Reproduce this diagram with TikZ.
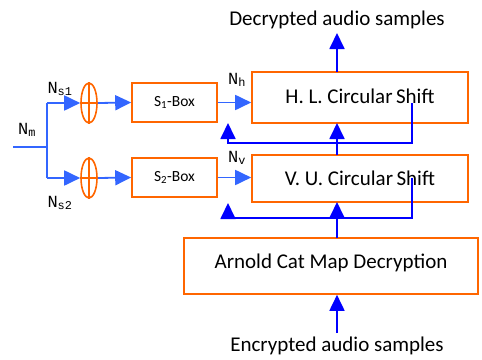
\documentclass[tikz,border=0pt]{standalone}
\usepackage{fontspec}
\setmainfont{Carlito}
\newfontfamily\labelfont{Liberation Mono}
\usetikzlibrary{arrows.meta,shapes.geometric}
\definecolor{boxorange}{RGB}{255,102,0}
\definecolor{lightblue}{RGB}{51,102,255}
\definecolor{darkblue}{RGB}{0,0,255}
\tikzset{
  blk/.style={draw=boxorange,line width=1.6pt,inner sep=0pt,font=\fontsize{21}{24}\selectfont},
  sbox/.style={blk,minimum width=85pt,minimum height=39pt,font=\fontsize{15.5}{18}\selectfont},
  xorop/.style={ellipse,draw=boxorange,line width=1.6pt,minimum width=16pt,minimum height=40pt,inner sep=0pt},
  lflow/.style={draw=lightblue,line width=1.8pt},
  lar/.style={lflow,-{Triangle[width=15pt,length=16pt]}},
  dflow/.style={draw=darkblue,line width=1.8pt},
  dar/.style={dflow,-{Triangle[width=15pt,length=16pt]}},
  sig/.style={font=\labelfont\fontsize{17}{19}\selectfont,inner sep=0pt},
  captext/.style={font=\fontsize{21}{24}\selectfont,inner sep=0pt}
}
\begin{document}
\begin{tikzpicture}[x=1pt,y=-1pt]
\useasboundingbox (0,0) rectangle (482,359);

% main processing blocks
\node[blk,minimum width=216pt,minimum height=51pt] (hl) at (360,97.5) {\raisebox{2pt}{H. L. Circular\,Shift}};
\node[blk,minimum width=216pt,minimum height=47pt] (vu) at (360,178.5) {V. U. Circular\,Shift};
\node[blk,minimum width=294pt,minimum height=56pt] (acm) at (331,266) {\raisebox{9pt}{Arnold Cat Map Decryption}};

% substitution boxes
\node[sbox] (s1) at (174.5,102.5) {S\textsubscript{1}-Box};
\node[sbox] (s2) at (174.5,177.5) {S\textsubscript{2}-Box};

% XOR operators
\node[xorop] (x1) at (89,103) {};
\node[xorop] (x2) at (89,178) {};
\foreach \e in {x1,x2}{
  \draw[boxorange,line width=1.6pt] (\e.north) -- (\e.south);
  \draw[boxorange,line width=1.6pt] (\e.west) -- (\e.east);
}

% input and split
\coordinate (in) at (13,147);
\coordinate (split) at (47,147);
\coordinate (up) at (47,103);
\coordinate (dn) at (47,178);
\draw[lflow] (in) -- (split);
\draw[lflow] (up) -- (dn);
\draw[lar] (up) -- (x1.west);
\draw[lar] (dn) -- (x2.west);
\draw[lar] (x1.east) -- (s1.west);
\draw[lar] (x2.east) -- (s2.west);
\draw[lar] (s1.east) -- (s1.east -| hl.west);
\draw[lar] (s2.east) -- (s2.east -| vu.west);

% signal labels
\node[sig] (nm) at (27,130) {N\textsubscript{m}};
\node[sig] (ns1) at (60,89) {N\textsubscript{s1}};
\node[sig] (ns2) at (60,203) {N\textsubscript{s2}};
\node[sig] (nh) at (237,80) {N\textsubscript{h}};
\node[sig] (nv) at (237,158) {N\textsubscript{v}};

% vertical data path
\node[captext] (dec) at (337,20) {Decrypted audio samples};
\node[captext] (enc) at (337,346) {Encrypted audio samples};
\coordinate (encTop) at (337,333);
\coordinate (decBot) at (337,33);
\draw[dar] (encTop) -- (encTop |- acm.south);
\coordinate (acmTop) at (337,238);
\coordinate (vuBot) at (337,202);
\coordinate (vuTop) at (337,155);
\coordinate (hlBot) at (337,123);
\coordinate (hlTop) at (337,72);
\draw[dar] (acmTop) -- (vuBot);
\draw[dar] (vuTop) -- (hlBot);
\draw[dar] (hlTop) -- (decBot);

% feedback paths
\coordinate (f1a) at (412,103);
\coordinate (f1b) at (412,143);
\coordinate (f1c) at (228,143);
\coordinate (f1d) at (228,123);
\draw[dar] (f1a) -- (f1b) -- (f1c) -- (f1d);
\coordinate (f2a) at (412,178);
\coordinate (f2b) at (412,218);
\coordinate (f2c) at (228,218);
\coordinate (f2d) at (228,203);
\draw[dar] (f2a) -- (f2b) -- (f2c) -- (f2d);
\end{tikzpicture}
\end{document}
